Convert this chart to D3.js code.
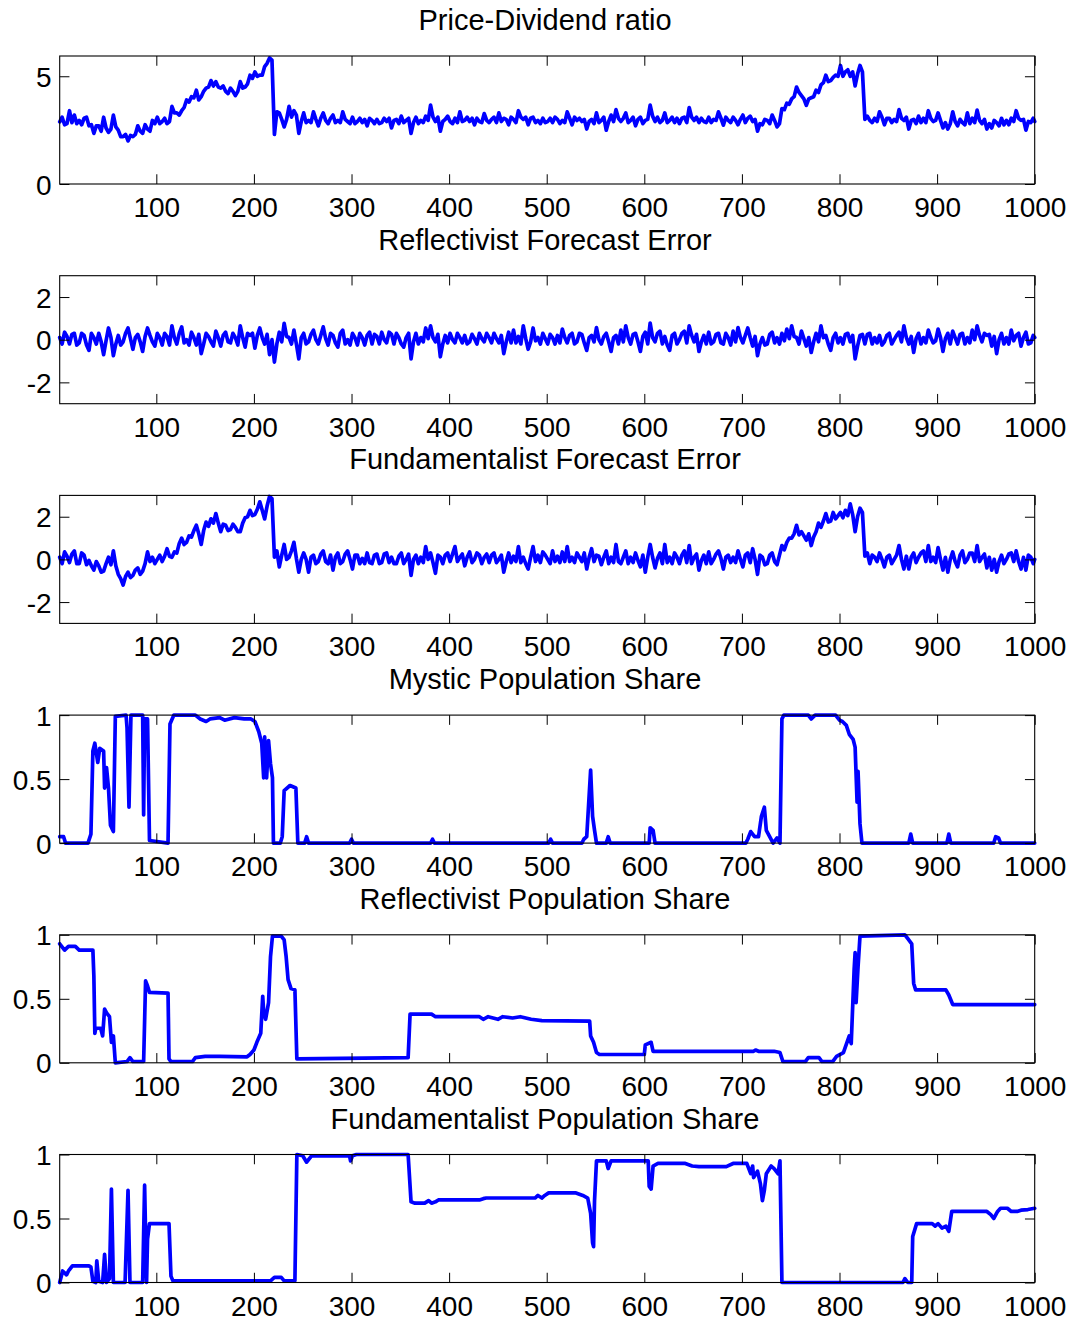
<!DOCTYPE html>
<html>
<head>
<meta charset="utf-8">
<script src="https://cdn.jsdelivr.net/npm/d3@7"></script>
<style>
  body { margin: 0; background: #fff; }
  text { font-family: "Liberation Sans", Arial, Helvetica, sans-serif; fill: #000; }
</style>
</head>
<body>
<svg id="chart" width="1075" height="1326"></svg>
<script>
// Simulation output sampled every 2.5 periods (t = 1, 3.5, 6, ..., 998.5, 1000)
const sampleStep = 2.5;

const priceDividend = [
  2.88,3.1,2.75,2.8,3.4,2.85,3.2,2.8,2.95,2.75,3.05,3.1,2.7,2.75,2.35,2.7,2.7,2.45,3.1,2.6,
  2.4,2.55,3.2,2.65,2.5,2.2,2.2,2.3,2.0,2.25,2.2,2.3,2.7,2.45,2.35,2.75,2.55,2.45,2.95,2.8,
  3.1,2.8,2.9,3.05,2.8,2.9,3.6,3.3,3.3,3.2,3.4,3.55,3.9,3.8,4.05,4.0,4.35,3.9,4.05,4.3,
  4.45,4.5,4.8,4.55,4.75,4.5,4.45,4.55,4.3,4.2,4.45,4.3,4.1,4.3,4.75,4.45,4.5,4.65,5.05,4.9,
  5.2,5.0,5.05,5.05,5.45,5.6,5.85,5.75,2.3,3.35,3.3,3.0,2.65,3.0,3.6,3.1,3.4,3.2,2.35,2.9,
  3.3,2.85,2.95,2.85,3.35,3.0,2.7,3.05,3.3,2.95,2.8,3.05,3.2,2.85,2.95,2.85,3.35,3.0,2.9,2.8,
  3.1,2.8,2.9,3.05,2.85,3.0,2.7,3.05,2.95,2.8,3.0,2.8,2.85,3.05,2.9,3.05,2.6,2.95,3.0,2.8,
  3.15,2.85,2.95,3.05,2.35,2.85,3.1,2.8,2.95,2.85,3.15,2.95,3.66,3.1,2.9,3.1,2.45,2.9,3.0,3.15,
  2.9,2.8,3.05,2.85,3.35,2.9,2.95,3.1,2.9,3.05,2.75,3.05,2.9,2.85,3.27,2.95,2.85,3.0,3.1,2.85,
  3.3,2.9,3.05,3.0,2.75,3.1,3.0,2.85,3.4,3.1,3.0,3.1,2.75,3.05,3.1,2.85,2.95,2.8,3.05,2.85,
  2.9,3.05,2.85,3.1,3.0,2.8,2.95,2.85,3.35,3.05,2.75,3.1,2.95,3.05,2.9,3.0,2.55,2.9,3.0,2.8,
  3.3,2.85,2.95,3.1,2.5,2.9,3.2,2.9,3.45,3.05,2.9,3.05,3.3,2.85,2.95,3.1,2.7,3.0,3.1,2.8,
  2.95,3.0,3.66,3.15,2.9,3.1,2.85,2.95,3.3,2.85,2.95,3.1,2.85,3.05,2.8,3.05,3.1,2.85,3.55,3.1,
  2.95,3.1,2.85,3.05,2.9,2.85,3.1,2.85,3.0,2.95,3.35,3.05,2.73,3.1,2.95,2.85,3.1,2.95,2.75,3.0,
  3.2,2.85,3.05,3.15,2.9,3.0,2.45,2.8,2.75,3.0,2.95,2.8,3.2,2.95,2.65,2.8,3.5,3.45,3.75,3.7,
  3.95,4.05,4.5,4.25,4.1,3.95,3.65,3.95,4.0,4.05,4.35,4.25,4.6,4.7,5.05,4.75,4.8,4.95,5.05,5.0,
  5.5,5.0,5.2,5.3,5.0,5.2,4.55,5.1,5.5,5.2,3.0,3.15,2.95,2.85,3.05,2.9,3.35,3.1,2.75,3.05,
  3.05,2.85,3.0,2.9,3.45,3.05,2.95,3.1,2.55,2.95,3.0,2.8,3.15,2.85,3.05,2.85,3.4,3.05,2.9,2.95,
  3.3,2.95,2.6,2.85,2.55,2.8,3.35,2.9,2.7,3.0,2.85,2.75,3.3,2.8,3.05,2.85,3.43,2.95,2.8,3.0,
  2.55,2.8,2.6,2.95,2.85,2.7,3.05,2.75,2.95,2.75,3.05,2.9,3.4,3.05,2.95,3.0,2.5,2.9,2.85,3.05,
  2.9
];

const reflectivistError = [
  0.1,-0.2,0.35,0.15,-0.2,0.25,0.3,-0.25,-0.15,0.3,0.2,-0.25,-0.5,0.3,0.1,-0.2,0.3,-0.1,-0.7,-0.05,
  0.55,0.1,-0.75,-0.2,0.2,-0.25,-0.1,0.3,0.55,0.05,-0.45,0.1,0.25,-0.1,-0.55,0.15,0.55,0.2,-0.1,-0.3,
  0.3,0.1,-0.25,0.3,0.15,-0.25,0.65,0.1,-0.2,0.3,0.6,-0.15,0.0,-0.25,0.35,0.1,-0.25,0.25,-0.65,-0.2,
  0.3,0.15,-0.1,-0.3,0.4,0.1,-0.3,0.2,0.35,-0.1,-0.15,0.3,0.1,-0.25,0.65,0.1,-0.35,0.3,0.2,0.3,
  -0.4,0.2,0.55,0.1,-0.2,0.25,-0.7,0.0,-1.05,-0.2,0.35,-0.1,0.77,0.15,0.1,-0.2,0.45,-0.2,-0.9,0.1,
  0.3,-0.2,-0.1,0.25,0.45,0.0,-0.2,0.2,0.6,0.05,-0.25,0.3,0.2,-0.15,-0.35,0.3,0.45,-0.2,0.0,-0.25,
  0.3,0.1,-0.25,0.3,0.1,-0.25,0.2,0.35,-0.2,0.25,0.15,-0.2,0.35,0.0,-0.15,0.35,0.25,-0.2,0.3,0.1,
  -0.2,-0.35,0.1,0.3,-0.9,-0.1,0.3,-0.2,0.1,-0.1,0.55,0.05,0.65,0.1,-0.1,0.25,-0.8,-0.2,0.2,-0.15,
  0.3,0.0,-0.15,0.3,0.1,-0.15,0.2,-0.2,-0.1,0.25,0.05,-0.2,0.3,0.05,-0.1,0.3,0.1,-0.15,0.3,0.05,
  -0.15,0.2,-0.65,-0.1,0.35,-0.15,0.45,-0.15,0.15,-0.2,0.65,0.05,-0.45,-0.1,0.55,-0.05,0.1,-0.2,0.3,0.05,
  -0.2,0.25,0.1,-0.2,0.2,-0.15,0.5,0.1,-0.15,0.2,0.3,-0.2,-0.1,0.3,0.25,-0.15,-0.5,0.1,0.2,-0.1,
  0.57,0.0,-0.2,0.15,0.3,-0.1,-0.55,0.1,0.2,-0.2,0.45,-0.1,0.65,0.1,-0.2,0.25,0.3,-0.1,-0.55,0.15,
  0.35,-0.2,0.78,0.1,-0.1,0.3,0.4,-0.2,0.15,-0.25,-0.5,0.2,0.3,-0.2,0.0,0.3,0.4,-0.15,0.65,0.2,
  -0.1,0.25,-0.55,-0.1,0.2,-0.2,0.35,-0.2,-0.1,0.25,0.3,-0.15,-0.2,0.3,0.1,-0.25,0.4,-0.1,0.57,0.1,
  -0.15,0.2,0.55,0.1,-0.3,0.15,-0.75,-0.2,0.1,-0.25,-0.2,0.25,0.35,-0.15,0.1,-0.2,0.3,-0.05,0.5,0.05,
  0.65,0.15,0.1,-0.2,0.4,0.05,-0.3,0.1,-0.6,-0.1,0.3,-0.1,0.65,0.1,0.2,-0.2,-0.5,0.1,0.3,-0.15,
  0.1,-0.2,0.25,0.3,-0.1,0.2,-0.9,-0.3,0.2,0.25,-0.2,0.25,0.3,-0.2,0.1,-0.15,0.2,-0.25,-0.1,0.2,
  0.3,-0.2,0.0,0.2,0.35,-0.1,0.65,0.1,-0.2,0.15,-0.6,0.05,0.3,-0.2,0.1,-0.15,0.45,0.1,-0.15,-0.05,
  0.5,0.1,-0.55,0.05,0.3,-0.2,0.4,0.1,-0.2,0.25,0.3,-0.2,0.1,-0.15,0.45,0.0,0.65,0.2,-0.1,0.3,
  0.2,0.25,-0.3,0.15,-0.65,0.0,0.3,-0.2,0.1,-0.2,0.45,-0.05,0.2,0.3,-0.3,0.1,0.35,-0.2,-0.15,0.2,
  0.1
];

const fundamentalistError = [
  0.1,-0.2,0.35,0.15,-0.15,0.25,0.4,-0.2,-0.2,0.3,0.2,-0.25,-0.05,-0.3,-0.5,-0.1,-0.3,-0.6,-0.55,-0.2,
  0.1,-0.25,0.4,-0.3,-0.7,-0.9,-1.2,-0.8,-0.6,-0.85,-0.75,-0.5,-0.4,-0.7,-0.55,-0.2,0.35,-0.1,0.1,-0.2,
  0.0,0.2,-0.1,0.15,0.5,0.15,0.1,0.35,0.3,0.75,1.0,0.7,0.8,1.1,1.05,1.35,1.6,1.2,0.7,1.35,
  1.75,1.55,1.9,1.7,2.15,1.7,1.3,1.65,1.6,1.35,1.4,1.65,1.5,1.3,1.3,1.7,1.95,2.0,2.3,2.05,
  2.1,2.35,2.7,2.3,1.9,2.5,2.95,2.85,0.1,0.4,-0.35,0.2,0.7,0.0,0.1,0.4,0.8,0.05,-0.6,0.0,
  0.3,0.0,-0.6,0.1,0.2,-0.2,-0.1,0.25,0.4,-0.1,-0.2,0.2,-0.5,0.1,0.3,-0.2,-0.1,0.25,0.4,0.0,
  -0.45,0.2,0.2,-0.2,0.05,-0.2,0.3,-0.15,-0.2,0.2,0.25,-0.2,-0.15,0.25,0.3,-0.15,0.1,-0.2,-0.2,0.15,
  0.3,-0.2,0.0,0.25,-0.75,0.0,0.2,-0.2,0.1,-0.15,0.6,0.0,0.3,-0.15,-0.65,0.2,0.1,-0.2,0.2,0.3,
  -0.1,0.25,0.6,-0.1,0.1,0.25,-0.3,0.1,0.35,-0.15,0.0,0.3,0.2,-0.2,0.1,0.25,-0.15,0.2,0.3,-0.15,
  0.0,0.2,-0.6,-0.1,0.3,-0.15,0.15,-0.1,0.6,-0.15,0.1,-0.2,-0.45,0.1,0.6,-0.1,0.2,-0.15,0.35,0.2,
  0.0,-0.2,0.4,-0.1,0.15,-0.15,0.35,-0.1,0.6,-0.1,0.1,-0.15,0.3,0.1,-0.1,0.3,-0.45,0.1,0.5,-0.1,
  0.2,0.15,-0.25,0.1,0.4,-0.2,0.1,-0.15,0.7,-0.1,-0.2,0.1,0.4,-0.2,0.1,-0.15,0.3,-0.05,-0.35,0.2,
  -0.6,0.1,0.7,0.1,-0.4,0.05,0.3,-0.2,0.7,-0.15,0.1,-0.2,0.3,0.1,-0.2,0.2,0.4,-0.15,0.65,-0.2,
  0.1,0.25,-0.5,-0.05,0.2,-0.2,0.35,-0.2,0.0,0.25,0.4,0.05,-0.45,0.1,0.2,-0.15,0.1,-0.15,0.4,0.0,
  -0.35,0.2,0.3,-0.15,0.5,0.0,-0.7,0.2,0.1,-0.25,-0.2,0.2,0.3,-0.1,-0.25,0.2,0.65,0.45,0.8,1.0,
  1.0,1.2,1.6,1.15,1.3,1.1,0.9,1.2,0.65,1.05,1.3,1.7,1.5,1.8,2.15,1.75,1.8,2.2,1.9,2.05,
  2.2,1.95,2.3,2.05,2.6,2.1,1.3,2.0,2.4,2.2,0.15,0.3,-0.2,0.2,0.1,-0.1,0.3,0.0,-0.35,0.1,
  0.2,-0.2,0.0,0.2,0.65,0.0,-0.45,0.15,-0.45,0.1,0.3,-0.15,0.1,0.3,0.4,-0.1,0.65,-0.1,0.1,-0.15,
  0.55,0.0,-0.5,0.1,-0.6,0.0,0.35,-0.1,-0.35,0.2,0.4,-0.15,0.0,0.3,0.3,-0.1,0.65,-0.1,0.1,0.25,
  -0.4,0.1,-0.5,0.0,-0.6,-0.1,0.2,-0.2,0.0,0.25,0.3,-0.1,0.4,-0.1,-0.45,0.1,-0.5,0.2,0.1,-0.2,
  0.0
];

// Population shares: [period, share] at each change of regime
const mysticShare = [
  [1,0.05],[5,0.05],[7,0.0],[30,0.0],[33,0.07],[35,0.72],[37,0.78],[40,0.63],[42,0.74],[46,0.72],
  [47,0.43],[49,0.59],[51,0.43],[53,0.14],[56,0.09],[58,0.99],[69,1.0],[70,0.9],[72,0.28],[74,1.0],
  [86,1.0],[87,0.22],[88,0.97],[91,0.97],[93,0.02],[112,0.0],[114,0.93],[118,1.0],[140,1.0],[145,0.97],
  [151,0.95],[155,0.97],[165,0.98],[170,0.96],[180,0.98],[190,0.97],[197,0.97],[201,0.95],[205,0.87],[208,0.78],
  [210,0.51],[211,0.83],[213,0.51],[215,0.8],[217,0.62],[219,0.51],[220,0.0],[227,0.0],[229,0.05],[231,0.41],
  [237,0.45],[243,0.43],[245,0.0],[252,0.0],[254,0.05],[256,0.0],[298,0.0],[300,0.03],[302,0.0],[381,0.0],
  [383,0.03],[385,0.0],[502,0.0],[504,0.03],[506,0.0],[536,0.0],[538,0.03],[541,0.05],[545,0.57],[547,0.21],
  [549,0.1],[551,0.0],[561,0.0],[563,0.05],[565,0.0],[605,0.0],[606,0.12],[609,0.1],[611,0.0],[704,0.0],
  [706,0.03],[709,0.09],[713,0.05],[717,0.05],[720,0.21],[723,0.28],[725,0.1],[732,0.0],[736,0.04],[739,0.0],
  [741,0.97],[743,1.0],[768,1.0],[771,0.97],[775,1.0],[796,1.0],[800,0.96],[803,0.95],[807,0.92],[810,0.85],
  [814,0.81],[816,0.75],[818,0.32],[819,0.56],[821,0.15],[823,0.0],[871,0.0],[873,0.07],[875,0.0],[910,0.0],
  [912,0.07],[914,0.0],[958,0.0],[960,0.05],[963,0.04],[965,0.0],[1000,0.0]
];

const reflectivistShare = [
  [1,0.93],[6,0.88],[10,0.91],[17,0.91],[21,0.88],[35,0.88],[36,0.68],[37,0.23],[38,0.27],[43,0.27],
  [45,0.21],[47,0.42],[49,0.39],[52,0.36],[54,0.16],[56,0.21],[58,0.0],[70,0.01],[73,0.04],[76,0.01],
  [87,0.01],[89,0.64],[91,0.6],[93,0.55],[112,0.545],[113,0.03],[115,0.01],[137,0.01],[140,0.04],[150,0.05],
  [165,0.05],[193,0.047],[196,0.065],[200,0.1],[203,0.16],[207,0.23],[209,0.52],[210,0.4],[212,0.34],[215,0.47],
  [217,0.83],[219,0.99],[228,0.99],[231,0.96],[233,0.83],[235,0.65],[238,0.58],[242,0.57],[244,0.03],[358,0.04],
  [360,0.38],[382,0.38],[386,0.36],[431,0.36],[435,0.34],[440,0.36],[450,0.34],[455,0.36],[465,0.35],[473,0.36],
  [484,0.34],[495,0.33],[544,0.325],[545,0.21],[548,0.16],[551,0.08],[554,0.065],[600,0.065],[601,0.14],[607,0.16],
  [609,0.09],[712,0.09],[714,0.1],[717,0.09],[733,0.09],[739,0.08],[742,0.01],[765,0.01],[768,0.04],[779,0.04],
  [782,0.01],[793,0.01],[797,0.05],[804,0.08],[810,0.21],[812,0.15],[815,0.73],[816,0.86],[817,0.47],[819,0.75],
  [821,0.99],[867,1.0],[870,0.97],[874,0.93],[876,0.62],[878,0.57],[909,0.57],[912,0.53],[916,0.455],[1000,0.455]
];

const fundamentalistShare = [
  [1,0.0],[4,0.09],[8,0.06],[10,0.09],[14,0.13],[31,0.13],[33,0.12],[35,0.01],[38,0.0],[39,0.17],
  [41,0.01],[45,0.0],[47,0.22],[49,0.0],[52,0.03],[54,0.73],[56,0.0],[68,0.0],[71,0.72],[73,0.0],
  [86,0.0],[88,0.76],[90,0.0],[91,0.34],[93,0.46],[113,0.46],[115,0.05],[117,0.013],[217,0.013],[221,0.04],
  [228,0.04],[231,0.013],[242,0.013],[244,1.0],[250,0.99],[254,0.94],[259,0.99],[298,0.99],[299,0.95],[301,0.99],
  [305,1.0],[358,1.0],[361,0.63],[365,0.62],[375,0.62],[379,0.64],[382,0.62],[386,0.63],[389,0.645],[431,0.645],
  [435,0.655],[438,0.66],[488,0.66],[491,0.68],[495,0.66],[498,0.68],[502,0.7],[530,0.7],[537,0.68],[542,0.66],
  [545,0.54],[547,0.31],[548,0.28],[549,0.64],[551,0.95],[561,0.95],[563,0.89],[566,0.95],[604,0.95],[605,0.75],
  [607,0.73],[609,0.91],[614,0.93],[642,0.93],[649,0.91],[656,0.905],[684,0.905],[691,0.93],[705,0.93],[709,0.85],
  [711,0.91],[712,0.82],[716,0.87],[719,0.77],[721,0.64],[723,0.72],[725,0.85],[730,0.91],[733,0.89],[737,0.85],
  [739,0.95],[741,0.0],[865,0.0],[867,0.03],[870,0.0],[874,0.0],[875,0.36],[879,0.46],[895,0.46],[898,0.44],
  [901,0.46],[905,0.425],[909,0.44],[912,0.40],[915,0.555],[951,0.555],[955,0.53],[958,0.5],[962,0.555],[965,0.58],
  [972,0.58],[976,0.555],[982,0.555],[986,0.565],[993,0.57],[1000,0.58]
];

const panelTitles = [
  "Price-Dividend ratio",
  "Reflectivist Forecast Error",
  "Fundamentalist Forecast Error",
  "Mystic Population Share",
  "Reflectivist Population Share",
  "Fundamentalist Population Share"
];
const xTickValues = [100, 200, 300, 400, 500, 600, 700, 800, 900, 1000];
const yTickSets = [[0, 5], [-2, 0, 2], [-2, 0, 2], [0, 0.5, 1], [0, 0.5, 1], [0, 0.5, 1]];
const yDomains = [[0, 5.94], [-3, 3], [-3, 3], [0, 1], [0, 1], [0, 1]];

// turn an evenly sampled series into [period, value] pairs
function sampled(values) {
  return values.map((v, i) => [Math.min(1 + i * sampleStep, 1000), v]);
}

const series = [
  sampled(priceDividend),
  sampled(reflectivistError),
  sampled(fundamentalistError),
  mysticShare,
  reflectivistShare,
  fundamentalistShare
];

// layout
const plotLeft = 59.7, plotRight = 1034.7;
const firstTop = 56, panelPitch = 219.7, panelHeight = 128;
const tickLen = 9.75;
const lineColor = "#0000ff";

const svg = d3.select("#chart");
const x = d3.scaleLinear().domain([1, 1000]).range([plotLeft, plotRight]);
const fmt = v => String(v);

series.forEach((data, i) => {
  const top = firstTop + i * panelPitch;
  const bottom = top + panelHeight;
  const y = d3.scaleLinear().domain(yDomains[i]).range([bottom, top]);
  const g = svg.append("g").attr("class", "panel");

  // title
  g.append("text")
    .attr("x", 545)
    .attr("y", top - 26)
    .attr("text-anchor", "middle")
    .style("font-size", "29px")
    .text(panelTitles[i]);

  // data line
  g.append("path")
    .datum(data)
    .attr("fill", "none")
    .attr("stroke", lineColor)
    .attr("stroke-width", 3.7)
    .attr("stroke-linejoin", "round")
    .attr("stroke-linecap", "round")
    .attr("d", d3.line().x(d => x(d[0])).y(d => y(d[1])));

  // bottom axis with inward ticks and labels below
  const xb = d3.axisBottom(x).tickValues(xTickValues).tickSizeInner(-tickLen).tickSizeOuter(0).tickFormat(fmt);
  const gxb = g.append("g").attr("transform", `translate(0,${bottom})`).call(xb);
  // top axis mirrored, no labels
  const xt = d3.axisTop(x).tickValues(xTickValues).tickSizeInner(-tickLen).tickSizeOuter(0).tickFormat("");
  const gxt = g.append("g").attr("transform", `translate(0,${top})`).call(xt);
  // left axis with labels
  const yl = d3.axisLeft(y).tickValues(yTickSets[i]).tickSizeInner(-tickLen).tickSizeOuter(0).tickPadding(8).tickFormat(fmt);
  const gyl = g.append("g").attr("transform", `translate(${plotLeft},0)`).call(yl);
  // right axis mirrored
  const yr = d3.axisRight(y).tickValues(yTickSets[i]).tickSizeInner(-tickLen).tickSizeOuter(0).tickFormat("");
  const gyr = g.append("g").attr("transform", `translate(${plotRight},0)`).call(yr);

  [gxb, gxt, gyl, gyr].forEach(a => {
    a.select(".domain").remove();
    a.selectAll(".tick line").attr("stroke", "#000").attr("stroke-width", 1);
    a.selectAll(".tick text")
      .style("font-size", "28px")
      .attr("fill", "#000")
      .style("font-family", "'Liberation Sans', Arial, sans-serif");
  });
  gxb.selectAll(".tick text").attr("dy", null).attr("y", 33);
  gyl.selectAll(".tick text").attr("dy", "0.36em");

  // box
  g.append("rect")
    .attr("x", plotLeft)
    .attr("y", top)
    .attr("width", plotRight - plotLeft)
    .attr("height", panelHeight)
    .attr("fill", "none")
    .attr("stroke", "#000")
    .attr("stroke-width", 1.1);
});
</script>
</body>
</html>
